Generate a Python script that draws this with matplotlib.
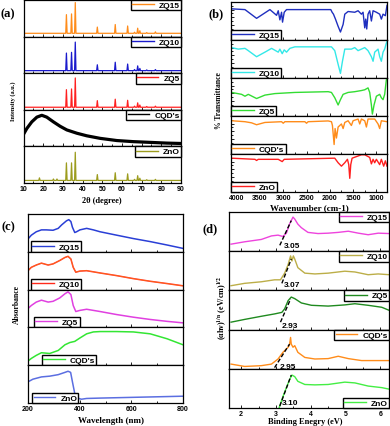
import matplotlib
matplotlib.use('Agg')
import matplotlib.pyplot as plt
from matplotlib.ticker import MultipleLocator, FixedLocator

plt.rcParams['mathtext.fontset'] = 'stix'

# ---------------- data: (a) XRD ----------------
xrd_names = ["ZQ15", "ZQ10", "ZQ5", "CQD's", "ZnO"]
xrd_colors = ["#ff8c1a", "#1a1acc", "#ff2020", "#000000", "#9c9c1e"]
xrd_peak_pos = [18.1, 25.2, 27.0, 31.8, 34.4, 36.3, 47.5, 56.6, 62.9, 66.4, 68.0, 69.1, 72.6, 77.0]
zq15_xrd_h = [0, 0, 0, 0.51, 0.53, 0.84, 0.17, 0.24, 0.20, 0.03, 0.14, 0.07, 0.02, 0.04]
zq10_xrd_h = [0, 0, 0, 0.48, 0.50, 0.78, 0.16, 0.23, 0.18, 0.03, 0.13, 0.06, 0.02, 0.03]
zq5_xrd_h = [0, 0, 0, 0.48, 0.50, 0.80, 0.18, 0.22, 0.19, 0.03, 0.12, 0.06, 0.02, 0.03]
zno_xrd_h = [0.07, 0.04, 0.04, 0.48, 0.48, 0.77, 0.16, 0.21, 0.18, 0.03, 0.13, 0.06, 0.02, 0.03]
xrd_baselines = [0.09, 0.07, 0.07, 0.07]
cqd_xrd_x = [10, 11.7, 14.2, 16.8, 19.3, 21.8, 25.2, 28.6, 32.0, 37.1, 42.1, 48.9, 57.4, 65.8, 74.3, 82.8, 90]
cqd_xrd_y = [0.33, 0.49, 0.67, 0.80, 0.85, 0.80, 0.67, 0.55, 0.45, 0.36, 0.29, 0.22, 0.16, 0.13, 0.11, 0.09, 0.08]

# ---------------- data: (b) FTIR ----------------
ftir_names = ["ZQ15", "ZQ10", "ZQ5", "CQD's", "ZnO"]
ftir_colors = ["#1f2fbf", "#33e8e8", "#33dd33", "#ff8c1a", "#ff2020"]
zq15_wn = [4107, 3821, 3572, 3286, 3143, 3107, 3072, 3036, 3015, 2979, 2929, 1979, 1951, 1922, 1879, 1822, 1772,
           1715, 1679, 1608, 1465, 1394, 1322, 1287, 1251, 1230, 1208, 1180, 1144, 1108, 1072, 1001, 930, 894,
           858, 808, 773]
zq15_tr = [0.82, 0.80, 0.57, 0.80, 0.65, 0.77, 0.53, 0.73, 0.47, 0.73, 0.80, 0.80, 0.73, 0.68, 0.55, 0.36, 0.21,
           0.41, 0.68, 0.75, 0.73, 0.77, 0.68, 0.73, 0.32, 0.55, 0.29, 0.68, 0.77, 0.50, 0.77, 0.73, 0.68, 0.55,
           0.68, 0.64, 0.91]
zq10_wn = [4107, 3964, 3821, 3750, 3572, 3393, 3250, 3107, 3072, 3022, 2979, 2929, 2858, 2750, 1965, 1894, 1822,
           1772, 1729, 1679, 1537, 1465, 1394, 1322, 1251, 1180, 1108, 1072, 1037, 965, 930, 894, 858, 823, 787, 773]
zq10_tr = [0.80, 0.76, 0.78, 0.72, 0.56, 0.68, 0.78, 0.68, 0.76, 0.64, 0.74, 0.68, 0.78, 0.82, 0.82, 0.72, 0.36,
           0.12, 0.44, 0.76, 0.76, 0.80, 0.72, 0.76, 0.80, 0.72, 0.56, 0.44, 0.68, 0.76, 0.56, 0.44, 0.68, 0.76,
           0.92, 0.96]
zq5_wn = [4107, 3893, 3821, 3750, 3572, 3393, 3179, 3036, 2750, 2036, 1965, 1894, 1822, 1772, 1715, 1608, 1465,
          1322, 1251, 1180, 1144, 1108, 1087, 1051, 1001, 930, 894, 858, 823, 787, 773]
zq5_tr = [0.62, 0.57, 0.52, 0.57, 0.46, 0.55, 0.59, 0.60, 0.62, 0.64, 0.62, 0.48, 0.29, 0.43, 0.57, 0.62, 0.64,
          0.67, 0.69, 0.74, 0.62, 0.29, 0.05, 0.29, 0.52, 0.57, 0.48, 0.43, 0.57, 0.95, 1.0]
cqd_wn = [4107, 3821, 3679, 3572, 3393, 3036, 3000, 2965, 2536, 2500, 2465, 2036, 1965, 1944, 1908, 1887, 1858,
          1822, 1751, 1715, 1679, 1608, 1537, 1501, 1394, 1358, 1322, 1251, 1215, 1180, 1037, 965, 930, 894, 773]
cqd_tr = [0.875, 0.85, 0.82, 0.77, 0.83, 0.85, 0.81, 0.85, 0.85, 0.81, 0.85, 0.87, 0.85, 0.75, 0.25, 0.67, 0.42,
          0.71, 0.79, 0.67, 0.83, 0.875, 0.75, 0.875, 0.92, 0.79, 0.92, 0.875, 0.71, 0.92, 0.92, 0.79, 0.67,
          0.875, 0.85]
zno_wn = [4107, 3607, 3572, 3536, 3107, 3022, 2979, 1894, 1822, 1751, 1679, 1622, 1594, 1572, 1551, 1522, 1322,
          1251, 1144, 1108, 1072, 1037, 1001, 930, 894, 844, 808, 773]
zno_tr = [0.89, 0.86, 0.83, 0.86, 0.86, 0.80, 0.86, 0.89, 0.77, 0.68, 0.77, 0.86, 0.72, 0.36, 0.72, 0.89, 0.98,
          0.98, 0.91, 0.74, 0.86, 0.77, 0.86, 0.72, 0.86, 0.68, 0.82, 0.68]

# ---------------- data: (c) UV-Vis ----------------
uv_names = ["ZQ15", "ZQ10", "ZQ5", "CQD's", "ZnO"]
uv_colors = ["#2a3fd6", "#ff2a1a", "#e040e0", "#33e633", "#5b6ee1"]
zq15_wl = [200, 213, 232, 252, 271, 297, 317, 330, 349, 358, 366, 372, 381, 388, 401, 427, 453, 479, 543, 608, 673, 738, 800]
zq15_abs = [0.34, 0.44, 0.53, 0.58, 0.58, 0.57, 0.62, 0.71, 0.82, 0.85, 0.80, 0.65, 0.51, 0.53, 0.58, 0.62, 0.58,
            0.53, 0.44, 0.35, 0.27, 0.18, 0.09]
zq10_wl = [200, 213, 232, 252, 278, 297, 323, 343, 355, 366, 375, 385, 401, 427, 479, 543, 608, 673, 738, 800]
zq10_abs = [0.50, 0.59, 0.65, 0.70, 0.65, 0.68, 0.77, 0.85, 0.88, 0.81, 0.59, 0.46, 0.49, 0.50, 0.44, 0.37, 0.29,
            0.22, 0.16, 0.10]
zq5_wl = [200, 213, 232, 252, 278, 297, 323, 343, 355, 366, 375, 385, 401, 427, 479, 543, 608, 673, 738, 800]
zq5_abs = [0.50, 0.58, 0.67, 0.72, 0.67, 0.69, 0.78, 0.89, 0.94, 0.87, 0.58, 0.42, 0.45, 0.48, 0.42, 0.34, 0.27,
           0.21, 0.16, 0.12]
cqd_wl = [200, 213, 232, 252, 284, 317, 343, 362, 381, 401, 427, 453, 479, 543, 608, 673, 738, 800]
cqd_abs = [0.11, 0.18, 0.26, 0.33, 0.31, 0.39, 0.54, 0.60, 0.63, 0.72, 0.83, 0.88, 0.89, 0.89, 0.88, 0.83, 0.70, 0.54]
zno_wl = [200, 219, 252, 284, 317, 343, 355, 365, 372, 381, 391, 407, 427, 479, 608, 738, 800]
zno_abs = [0.56, 0.63, 0.69, 0.71, 0.75, 0.81, 0.84, 0.81, 0.56, 0.25, 0.13, 0.10, 0.12, 0.13, 0.15, 0.17, 0.18]

# ---------------- data: (d) Tauc ----------------
tauc_names = ["ZQ15", "ZQ10", "ZQ5", "CQD's", "ZnO"]
tauc_colors = ["#ee44dd", "#bcae48", "#1f8a1f", "#ff8c1a", "#44ee44"]
tauc_gaps = ["3.05", "3.07", "2.93", "2.95", "3.10"]
zq15_e = [1.71, 2.10, 2.58, 2.87, 3.06, 3.20, 3.30, 3.39, 3.49, 3.54, 3.63, 3.73, 3.92, 4.21, 4.50, 4.79, 5.08,
          5.37, 5.65, 5.94, 6.26]
zq15_t = [0.18, 0.24, 0.30, 0.39, 0.41, 0.375, 0.46, 0.69, 0.87, 0.82, 0.69, 0.60, 0.48, 0.45, 0.46, 0.48, 0.51,
          0.46, 0.42, 0.46, 0.45]
zq10_e = [1.71, 2.10, 2.58, 2.96, 3.13, 3.25, 3.35, 3.42, 3.46, 3.50, 3.54, 3.63, 3.83, 4.12, 4.50, 4.98, 5.27,
          5.65, 5.94, 6.26]
zq10_t = [0.12, 0.18, 0.22, 0.27, 0.27, 0.44, 0.66, 0.88, 0.75, 0.88, 0.80, 0.58, 0.44, 0.42, 0.44, 0.49, 0.47,
          0.40, 0.42, 0.40]
zq5_e = [1.71, 2.10, 2.58, 2.96, 3.17, 3.25, 3.35, 3.44, 3.54, 3.73, 4.02, 4.50, 4.98, 5.27, 5.65, 6.04, 6.26]
zq5_t = [0.19, 0.26, 0.34, 0.40, 0.44, 0.53, 0.74, 0.83, 0.79, 0.68, 0.62, 0.60, 0.63, 0.66, 0.62, 0.57, 0.49]
cqd_e = [1.71, 2.10, 2.58, 2.87, 3.06, 3.20, 3.35, 3.39, 3.42, 3.44, 3.49, 3.54, 3.63, 3.83, 4.12, 4.50, 4.79,
         5.08, 5.46, 5.85, 6.26]
cqd_t = [0.12, 0.06, 0.08, 0.12, 0.25, 0.42, 0.55, 0.61, 0.80, 0.63, 0.55, 0.59, 0.42, 0.29, 0.25, 0.26, 0.32,
         0.26, 0.21, 0.21, 0.21]
zno_e = [3.09, 3.20, 3.30, 3.39, 3.46, 3.54, 3.63, 3.83, 4.12, 4.50, 4.98, 5.27, 5.65, 6.04, 6.26]
zno_t = [0.0, 0.29, 0.52, 0.72, 0.84, 0.80, 0.68, 0.60, 0.59, 0.60, 0.66, 0.64, 0.56, 0.52, 0.48]
tangent_e0 = [3.11, 3.17, 3.13, 2.96, 3.11]
tangent_t0 = [0.15, 0.18, 0.19, 0.03, 0.05]
tangent_e1 = [3.44, 3.44, 3.42, 3.39, 3.44]
tangent_t1 = [0.78, 0.80, 0.78, 0.63, 0.84]
gap_label_e = [3.22, 3.23, 3.17, 3.11, 3.17]
gap_label_t = [0.15, 0.15, 0.10, 0.07, 0.15]

# ---------------- figure ----------------
W, H = 390, 427
fig = plt.figure(figsize=(W / 100, H / 100), dpi=100)

LEG_PROP = dict(family='Liberation Sans', weight='bold', size=6)
SERIF = 'Liberation Serif'


def stack(left, right, top, bottom, n=5):
    axs = []
    h = (bottom - top) / n
    for i in range(n):
        y0 = top + i * h
        ax = fig.add_axes([left / W, 1 - (y0 + h) / H, (right - left) / W, h / H])
        ax.set_ylim(0, 1)
        for s in ax.spines.values():
            s.set_linewidth(0.9)
        ax.tick_params(which='both', direction='in', width=0.6, pad=1.5)
        ax.tick_params(which='major', length=2.2)
        ax.tick_params(which='minor', length=1.3)
        ax.tick_params(axis='y', which='both', left=False, labelleft=False)
        if i < n - 1:
            ax.tick_params(axis='x', labelbottom=False)
        axs.append(ax)
    return axs


def style_ticklabels(ax):
    for lab in ax.get_xticklabels():
        lab.set_family('Liberation Sans')
        lab.set_weight('bold')
        lab.set_size(5)


def add_legend(ax, label, color, loc, anchor, hl=2.6, lw=1.0):
    h, = ax.plot([], [], color=color, lw=lw)
    leg = ax.legend([h], [label], loc=loc, bbox_to_anchor=anchor, frameon=True, fancybox=False,
                    edgecolor='black', prop=LEG_PROP, handlelength=hl, borderpad=0.15,
                    borderaxespad=0, handletextpad=0.6, framealpha=1)
    leg.get_frame().set_linewidth(1.0)


def ftext(x, y, s, **kw):
    fig.text(x / W, 1 - y / H, s, **kw)


# ---- (a) ----
axA = stack(23.5, 181, 1, 184)
xrd_heights = [zq15_xrd_h, zq10_xrd_h, zq5_xrd_h, None, zno_xrd_h]
bi = 0
for i, ax in enumerate(axA):
    ax.set_xlim(10, 90)
    ax.xaxis.set_major_locator(MultipleLocator(10))
    ax.xaxis.set_minor_locator(MultipleLocator(5))
    if xrd_heights[i] is None:
        ax.plot(cqd_xrd_x, cqd_xrd_y, color=xrd_colors[i], lw=2.3)
    else:
        b = xrd_baselines[bi]
        bi += 1
        xs, ys = [10], [b]
        for p, hgt in zip(xrd_peak_pos, xrd_heights[i]):
            xs += [p - 0.35, p, p + 0.35]
            ys += [b, b + hgt, b]
        xs.append(90)
        ys.append(b)
        ax.plot(xs, ys, color=xrd_colors[i], lw=0.9)
    style_ticklabels(ax)
    add_legend(ax, xrd_names[i], xrd_colors[i], 'upper right', (1, 1))
ftext(13, 101, 'Intensity (a.u.)', rotation=90, ha='center', va='center', family=SERIF, weight='bold', size=4.5)
ftext(102, 201, '2θ (degree)', ha='center', va='center', family=SERIF, weight='bold', size=6)
ftext(8, 14, '(a)', ha='center', va='center', family=SERIF, weight='bold', size=9)

# ---- (b) ----
axB = stack(231, 387, 3, 193)
ftir_wn = [zq15_wn, zq10_wn, zq5_wn, cqd_wn, zno_wn]
ftir_tr = [zq15_tr, zq10_tr, zq5_tr, cqd_tr, zno_tr]
for i, ax in enumerate(axB):
    ax.set_xlim(4121, 773)
    ax.xaxis.set_major_locator(MultipleLocator(500))
    ax.xaxis.set_minor_locator(MultipleLocator(250))
    ax.tick_params(axis='y', which='both', left=True)
    ax.yaxis.set_major_locator(FixedLocator([0.2, 0.4, 0.6, 0.8]))
    ax.yaxis.set_minor_locator(FixedLocator([0.1, 0.3, 0.5, 0.7, 0.9]))
    ax.plot(ftir_wn[i], ftir_tr[i], color=ftir_colors[i], lw=1.0)
    style_ticklabels(ax)
    add_legend(ax, ftir_names[i], ftir_colors[i], 'lower left', (0, 0))
ftext(219, 101, '% Transmittance', rotation=90, ha='center', va='center', family=SERIF, weight='bold', size=5.5)
ftext(309, 208, 'Wavenumber (cm-1)', ha='center', va='center', family=SERIF, weight='bold', size=6.5)
ftext(216, 14, '(b)', ha='center', va='center', family=SERIF, weight='bold', size=9)

# ---- (c) ----
axC = stack(28, 183, 215, 404)
uv_wl = [zq15_wl, zq10_wl, zq5_wl, cqd_wl, zno_wl]
uv_abs = [zq15_abs, zq10_abs, zq5_abs, cqd_abs, zno_abs]
c_leg_x = [0.017, 0.017, 0.04, 0.088, 0.028]
for i, ax in enumerate(axC):
    ax.set_xlim(200, 800)
    ax.xaxis.set_major_locator(MultipleLocator(200))
    ax.xaxis.set_minor_locator(MultipleLocator(100))
    ax.plot(uv_wl[i], uv_abs[i], color=uv_colors[i], lw=1.1)
    if i == 1:
        ax.plot(uv_wl[i], uv_abs[i], color='#ff9a1a', lw=0.3)
    style_ticklabels(ax)
    add_legend(ax, uv_names[i], uv_colors[i], 'lower left', (c_leg_x[i], 0))
ftext(17, 305, 'Absorbance', rotation=90, ha='center', va='center', family=SERIF, weight='bold', size=5.5)
ftext(111, 421, 'Wavelength (nm)', ha='center', va='center', family=SERIF, weight='bold', size=6.5)
ftext(8, 227, '(c)', ha='center', va='center', family=SERIF, weight='bold', size=9)

# ---- (d) ----
axD = stack(229, 389, 213, 409)
tauc_e = [zq15_e, zq10_e, zq5_e, cqd_e, zno_e]
tauc_t = [zq15_t, zq10_t, zq5_t, cqd_t, zno_t]
for i, ax in enumerate(axD):
    ax.set_xlim(1.65, 6.25)
    ax.xaxis.set_major_locator(MultipleLocator(1))
    ax.xaxis.set_minor_locator(MultipleLocator(0.5))
    ax.plot(tauc_e[i], tauc_t[i], color=tauc_colors[i], lw=1.0)
    ax.plot([tangent_e0[i], tangent_e1[i]], [tangent_t0[i], tangent_t1[i]], color='black', lw=1.0,
            ls=(0, (3, 1.5)))
    ax.text(gap_label_e[i], gap_label_t[i], tauc_gaps[i], ha='left', va='center',
            family='Liberation Sans', weight='bold', size=6)
    style_ticklabels(ax)
    if i == 4:
        add_legend(ax, tauc_names[i], tauc_colors[i], 'lower right', (1, 0))
    else:
        add_legend(ax, tauc_names[i], tauc_colors[i], 'upper right', (1, 1))
ftext(222, 308, r'(αhν)$^{\mathbf{1/n}}$ (eV/cm)$^{\mathbf{1/2}}$', rotation=90, ha='center', va='center',
      family=SERIF, weight='bold', size=5.8)
ftext(305, 422, 'Binding Enegry (eV)', ha='center', va='center', family=SERIF, weight='bold', size=6)
ftext(210, 229, '(d)', ha='center', va='center', family=SERIF, weight='bold', size=9)

fig.savefig('out.png', dpi=100)
